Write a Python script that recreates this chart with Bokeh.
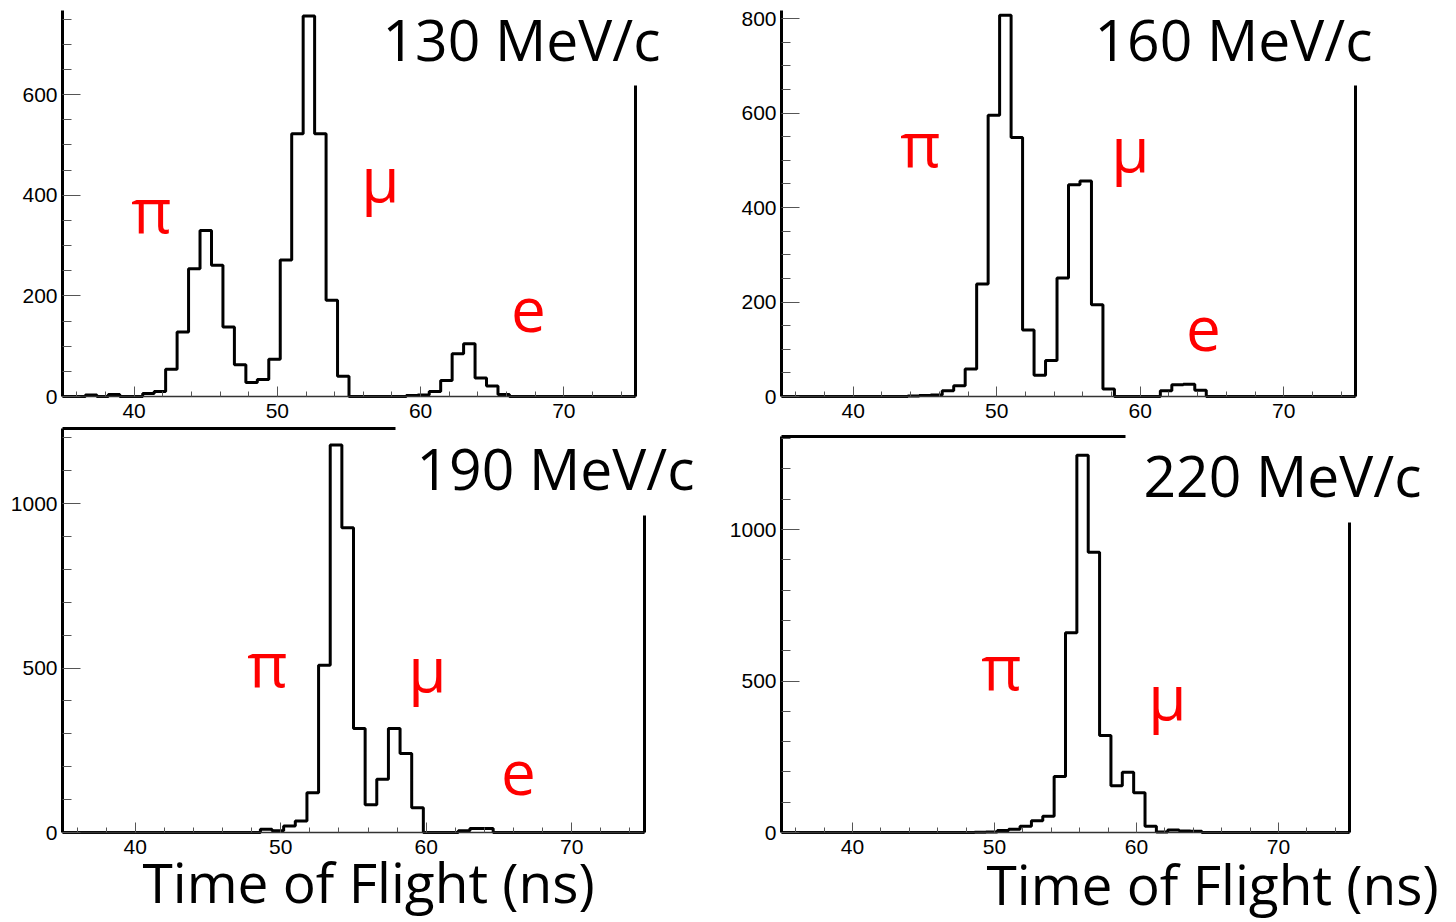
import numpy as np
from bokeh.plotting import figure
from bokeh.layouts import column, row
from bokeh.models import Range1d, LinearAxis, SingleIntervalTicker, FixedTicker, Label
from bokeh.embed import file_html
from bokeh.resources import INLINE

# ---- histogram binning (50 bins, 35-75 ns, 0.8 ns wide) ----
tof_lo = 35.0
tof_hi = 75.0
n_bins = 50

# ---- counts per bin ----
counts_130 = [0, 0, 3, 0, 4, 0, 0, 6, 10, 54,
              128, 254, 330, 261, 138, 63, 28, 34, 74, 271,
              522, 756, 522, 191, 40, 0, 0, 0, 0, 0,
              2, 3, 10, 32, 85, 105, 37, 21, 4, 0,
              0, 0, 0, 0, 0, 0, 0, 0, 0, 0]
counts_160 = [0, 0, 0, 0, 0, 0, 0, 0, 0, 0,
              0, 1, 2, 3, 12, 23, 58, 238, 595, 807,
              548, 141, 45, 76, 251, 448, 456, 194, 16, 0,
              0, 0, 0, 12, 25, 26, 13, 0, 0, 0,
              0, 0, 0, 0, 0, 0, 0, 0, 0, 0]
counts_190 = [0, 0, 0, 0, 0, 0, 0, 0, 0, 0,
              0, 0, 0, 0, 0, 0, 0, 10, 5, 20,
              35, 121, 508, 1178, 926, 316, 84, 162, 316, 240,
              75, 0, 0, 0, 5, 12, 12, 0, 0, 0,
              0, 0, 0, 0, 0, 0, 0, 0, 0, 0]
counts_220 = [0, 0, 0, 0, 0, 0, 0, 0, 0, 0,
              0, 0, 0, 0, 0, 0, 0, 1, 2, 7,
              11, 21, 39, 54, 185, 659, 1245, 925, 320, 154,
              199, 131, 21, 2, 8, 5, 4, 0, 0, 0,
              0, 0, 0, 0, 0, 0, 0, 0, 0, 0]

momentum_titles = ["130 MeV/c", "160 MeV/c", "190 MeV/c", "220 MeV/c"]
particle_names = ["\u03c0", "\u03bc", "e"]
x_title = "Time of Flight (ns)"

edges = np.linspace(tof_lo, tof_hi, n_bins + 1)

TITLE_FONT = "Open Sans"
TICK_FONT = "Liberation Sans"
BASE_SHIFT = 25  # px correction for the text baseline


def make_panel(counts, W, H, a, b, c, s, y_top, y_major, y_minor_n,
               right_top, top_end, title, title_px, particles_px, xlabel_px):
    # a, b: pixel columns of 35 ns and 75 ns; c: pixel row of 0 counts; s: px per count
    kx = (b - a) / (tof_hi - tof_lo)
    x0 = tof_lo - a / kx
    x1 = tof_lo + (W - a) / kx
    y0 = -(H - c) / s
    y1 = c / s

    def dx(px):
        return x0 + px / kx

    def dy(py):
        return (c - (py - BASE_SHIFT)) / s

    p = figure(width=W, height=H,
               x_range=Range1d(x0, x1), y_range=Range1d(y0, y1),
               x_axis_location=None, y_axis_location=None,
               output_backend="svg", toolbar_location=None,
               min_border=0, min_border_left=0, min_border_right=0,
               min_border_top=0, min_border_bottom=0,
               outline_line_color=None,
               background_fill_color="white", border_fill_color="white")
    p.grid.visible = False

    xa = LinearAxis(fixed_location=0, bounds=(tof_lo, tof_hi),
                    ticker=SingleIntervalTicker(interval=10, num_minor_ticks=5))
    xa.axis_line_width = 1.5
    xa.axis_line_color = "#333333"
    xa.major_tick_in = 10
    xa.major_tick_out = 0
    xa.minor_tick_in = 5
    xa.minor_tick_out = 0
    xa.major_tick_line_color = "#555555"
    xa.minor_tick_line_color = "#555555"
    xa.major_label_text_font = TICK_FONT
    xa.major_label_text_font_size = "21px"
    xa.major_label_text_color = "black"
    xa.major_label_standoff = 7
    p.add_layout(xa, "below")

    ya = LinearAxis(fixed_location=tof_lo, bounds=(0, y_top),
                    ticker=SingleIntervalTicker(interval=y_major, num_minor_ticks=y_minor_n))
    ya.axis_line_width = 3
    ya.axis_line_color = "black"
    ya.major_tick_in = 18
    ya.major_tick_out = 0
    ya.minor_tick_in = 9
    ya.minor_tick_out = 0
    ya.major_tick_line_color = "#555555"
    ya.minor_tick_line_color = "#555555"
    ya.major_label_text_font = TICK_FONT
    ya.major_label_text_font_size = "21px"
    ya.major_label_text_color = "black"
    ya.major_label_standoff = 5
    p.add_layout(ya, "left")

    ra = LinearAxis(fixed_location=tof_hi, bounds=(0, right_top),
                    ticker=FixedTicker(ticks=[]),
                    axis_line_width=3, axis_line_color="black",
                    major_label_text_font_size="0px")
    p.add_layout(ra, "right")
    if top_end is not None:
        ta = LinearAxis(fixed_location=y_top, bounds=(tof_lo, top_end),
                        ticker=FixedTicker(ticks=[]),
                        axis_line_width=3, axis_line_color="black",
                        major_label_text_font_size="0px")
        p.add_layout(ta, "above")

    ys = list(counts) + [counts[-1]]
    p.step(x=edges, y=ys, mode="after", line_color="black", line_width=3)

    p.add_layout(Label(x=dx(title_px[0]), y=dy(title_px[1]), text=title,
                       text_font=TITLE_FONT, text_font_size="57px",
                       text_color="black", text_align="left",
                       text_baseline="alphabetic"))
    for name, (px, py) in zip(particle_names, particles_px):
        p.add_layout(Label(x=dx(px), y=dy(py), text=name, text_font=TITLE_FONT,
                           text_font_size="62px", text_color="#ff0000",
                           text_align="center", text_baseline="alphabetic"))
    if xlabel_px is not None:
        p.add_layout(Label(x=dx(xlabel_px[0]), y=dy(xlabel_px[1]), text=x_title,
                           text_font=TITLE_FONT, text_font_size="55px",
                           text_color="black", text_align="left",
                           text_baseline="alphabetic"))
    return p


p1 = make_panel(counts_130, 720, 426, 62, 635, 396, 0.5033, 767, 200, 4,
                618, None, momentum_titles[0], (382, 63),
                [(151, 233), (380, 202), (528, 334)], None)
p2 = make_panel(counts_160, 736, 426, 61, 635, 396, 0.4725, 817, 200, 4,
                658, None, momentum_titles[1], (374, 63),
                [(200, 167), (410, 172), (483, 353)], None)
p3 = make_panel(counts_190, 720, 496, 62, 644, 406, 0.329, 1228, 500, 5,
                963, 57.9, momentum_titles[2], (416, 66),
                [(267, 261), (427, 266), (518, 371)], (142, 480))
p4 = make_panel(counts_220, 736, 496, 61, 629, 406, 0.303, 1307, 500, 5,
                1023, 59.2, momentum_titles[3], (423, 73),
                [(281, 264), (447, 294)], (266, 482))

layout = column(row(p1, p2, spacing=0), row(p3, p4, spacing=0), spacing=0)
open("out.html", "w").write(file_html(layout, INLINE))
